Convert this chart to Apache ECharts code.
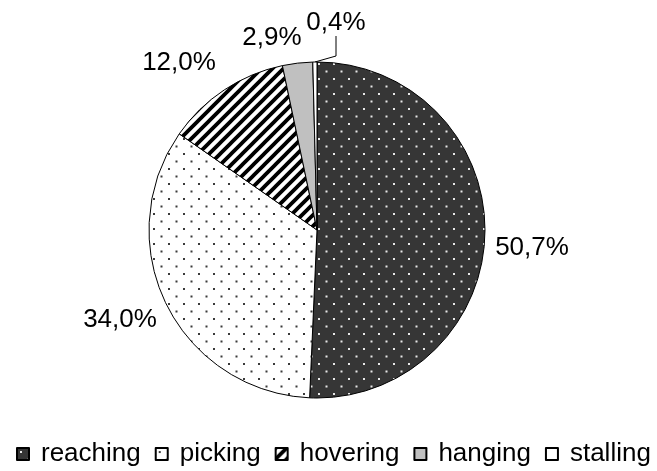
<!DOCTYPE html>
<html>
<head>
<meta charset="utf-8">
<script src="https://cdn.jsdelivr.net/npm/echarts@6/dist/echarts.min.js"></script>
<style>html,body{margin:0;padding:0;background:#fff}#c{width:657px;height:471px}</style>
</head>
<body>
<div id="c"></div>
<script>
const categories = ['reaching', 'picking', 'hovering', 'hanging', 'stalling'];
const values = [50.7, 34.0, 12.0, 2.9, 0.4];
const valueLabels = ['50,7%', '34,0%', '12,0%', '2,9%', '0,4%'];

function tile(w, h, draw) {
  const c = document.createElement('canvas');
  c.width = w; c.height = h;
  draw(c.getContext('2d'), w, h);
  return { image: c, repeat: 'repeat' };
}
const dotsDark = tile(15, 15, (g, w, h) => {
  g.fillStyle = '#363636'; g.fillRect(0, 0, w, h);
  g.fillStyle = '#e8e8e8';
  g.fillRect(3, 3, 2, 2); g.fillRect(10.5, 10.5, 2, 2);
});
const dotsLight = tile(15, 15, (g, w, h) => {
  g.fillStyle = '#ffffff'; g.fillRect(0, 0, w, h);
  g.fillStyle = '#3a3a3a';
  g.fillRect(3, 3, 2, 2); g.fillRect(10.5, 10.5, 2, 2);
});
const stripes = tile(11, 11, (g, w, h) => {
  g.fillStyle = '#ffffff'; g.fillRect(0, 0, w, h);
  g.strokeStyle = '#000000'; g.lineWidth = 3.8;
  g.beginPath();
  g.moveTo(-3, 14); g.lineTo(14, -3);
  g.moveTo(-8, 8); g.lineTo(8, -8);
  g.moveTo(3, 19); g.lineTo(19, 3);
  g.stroke();
});
const fills = [dotsDark, dotsLight, stripes, '#c0c0c0', '#ffffff'];
const labelPos = [[532, 248], [120, 320], [179, 63], [272, 38], [336, 23]];

const chart = echarts.init(document.getElementById('c'), null, { renderer: 'canvas' });
chart.setOption({
  animation: false,
  textStyle: { fontFamily: 'Liberation Sans, Arial, sans-serif' },
  legend: {
    orient: 'horizontal',
    left: 11,
    top: 436,
    itemWidth: 12,
    itemHeight: 12,
    itemGap: 14,
    icon: 'rect',
    textStyle: { fontSize: 26, color: '#000', fontFamily: 'Liberation Sans, Arial, sans-serif', padding: [0, 0, 0, 7] },
    data: categories
  },
  series: [{
    type: 'pie',
    center: [317, 230],
    radius: 168,
    startAngle: 90,
    clockwise: true,
    avoidLabelOverlap: false,
    itemStyle: { borderColor: '#000', borderWidth: 1 },
    emphasis: { disabled: true },
    label: {
      show: true,
      position: 'outside',
      fontSize: 26,
      color: '#000',
      fontFamily: 'Liberation Sans, Arial, sans-serif',
      formatter: p => valueLabels[p.dataIndex]
    },
    labelLine: { show: false, length: 8, length2: 20, lineStyle: { color: '#000', width: 1 } },
    labelLayout: function (p) {
      const pos = labelPos[p.dataIndex];
      return { x: pos[0], y: pos[1], align: 'center', verticalAlign: 'middle' };
    },
    data: categories.map((name, i) => ({
      name: name,
      value: values[i],
      itemStyle: { color: fills[i] },
      labelLine: i === 4 ? { show: true } : undefined
    }))
  }]
});
</script>
</body>
</html>
